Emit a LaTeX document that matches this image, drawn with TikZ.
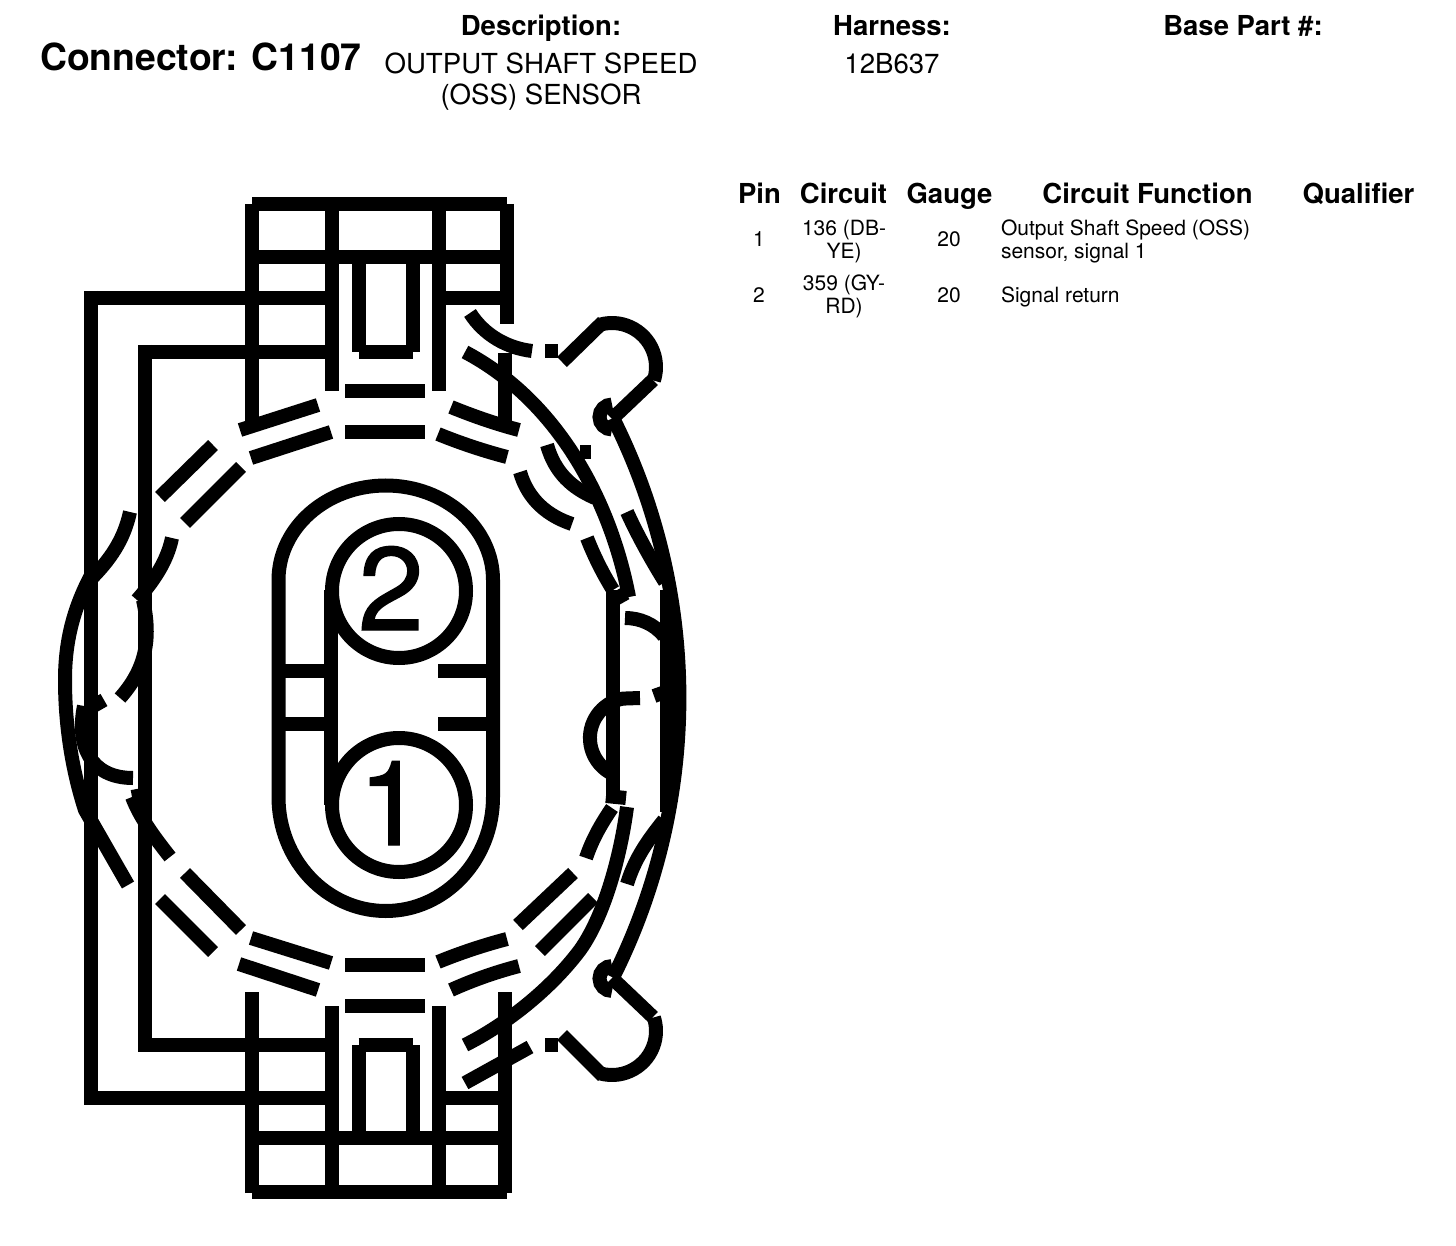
\documentclass[tikz,border=0pt]{standalone}
\usepackage{fontspec}
\setmainfont{TeX Gyre Heros}
\newfontfamily\digf[FakeBold=1.2]{TeX Gyre Heros}
\newcommand{\fs}[1]{\fontsize{#1}{#1}\selectfont}
\begin{document}
\begin{tikzpicture}[x=1pt,y=-1pt,
  ln/.style={line width=14pt,black,line cap=butt,line join=miter},
  txt/.style={anchor=base,inner sep=0pt,outer sep=0pt},
  hd/.style={txt,font=\bfseries\fs{27.5}},
  sub/.style={txt,font=\fs{27.6}},
  cell/.style={txt,font=\fs{21}},
  celll/.style={anchor=base west,inner sep=0pt,outer sep=0pt,font=\fs{21}},
  dig/.style={txt,font=\digf\fs{118}}]
\fill[white] (0,0) rectangle (1456,1246);
\useasboundingbox (0,0) rectangle (1456,1246);
% ---- top block
\draw[ln] (252,204) -- (507,204);
\draw[ln] (252,204) -- (252,423);
\draw[ln] (332,204) -- (332,391);
\draw[ln] (438.5,204) -- (438.5,391);
\draw[ln] (506.5,204) -- (506.5,324);
\draw[ln] (252,257.5) -- (506.5,257.5);
\draw[ln] (91,298) -- (332,298);
\draw[ln] (438.5,298) -- (506.5,298);
\draw[ln] (145,352) -- (332,352);
\draw[ln] (358.5,257) -- (358.5,352);
\draw[ln] (412.5,257) -- (412.5,352);
\draw[ln] (358.5,352) -- (412.5,352);
\draw[ln] (505,353) -- (505,425);
\draw[ln] (345,391) -- (425,391);
\draw[ln] (345,431.5) -- (425,431.5);
% ---- bottom block
\draw[ln] (252,1192) -- (507,1192);
\draw[ln] (252,1193) -- (252,992);
\draw[ln] (332,1192) -- (332,1006);
\draw[ln] (438.5,1192) -- (438.5,1006);
\draw[ln] (505,1193) -- (505,992);
\draw[ln] (252,1138) -- (505,1138);
\draw[ln] (91,1098) -- (332,1098);
\draw[ln] (438.5,1098) -- (505,1098);
\draw[ln] (145,1045) -- (332,1045);
\draw[ln] (358.5,1138) -- (358.5,1045);
\draw[ln] (412.5,1138) -- (412.5,1045);
\draw[ln] (358.5,1045) -- (412.5,1045);
\draw[ln] (345,1006) -- (425,1006);
\draw[ln] (345,964.5) -- (425,964.5);
% ---- long verticals
\draw[ln] (91,291) -- (91,1105);
\draw[ln] (145,345) -- (145,1052);
\draw[ln] (612.5,590) -- (612.5,800);
\draw[ln] (667,590) -- (667,812);
% ---- ring dashes top
\draw[ln] (240,430) -- (318,405);
\draw[ln] (251,458) -- (331,432);
\draw[ln] (451,407) .. controls (473,416) and (496,424) .. (519,430);
\draw[ln] (438,434) .. controls (460,443) and (484,451) .. (507,457);
% ring dashes bottom
\draw[ln] (239,964) -- (318,990);
\draw[ln] (251,938) -- (331,963);
\draw[ln] (451,990) .. controls (473,980) and (496,972) .. (519,966);
\draw[ln] (438,962) .. controls (460,953) and (484,945) .. (507,939);
% ring dashes left
\draw[ln] (160,497) -- (213,445);
\draw[ln] (185,523) -- (241,467);
\draw[ln] (160,899) -- (213,952);
\draw[ln] (185,873) -- (241,930);
% ring dashes lower right
\draw[ln] (518,925) -- (573,873);
\draw[ln] (540,951) -- (593,898);
% ---- upper right arcs
\draw[ln] (470,313) .. controls (484,335) and (507,348) .. (532,351);
\draw[ln] (545,351.5) -- (558,351.5);
\draw[ln] (465,352) .. controls (556,400) and (610,498) .. (629,597);
\draw[ln] (547,445) .. controls (555,473) and (572,488) .. (595,498);
\draw[ln] (580,452) -- (591,452);
\draw[ln] (520,472) .. controls (528,500) and (548,516) .. (572,524);
\draw[ln] (587,538) .. controls (594,556) and (603,574) .. (613,590);
\draw[ln] (627,512) .. controls (636,532) and (650,558) .. (665,582);
\draw[ln] (610,602) -- (626,593);
% hook top
\draw[ln] (562,362) -- (603,322);
\draw[ln] (600.6,324.5) arc[start angle=-105,end angle=18,radius=44];
\draw[ln] (653,380) -- (612,419);
\draw[ln] (612,404.5) arc[start angle=-90,end angle=-270,radius=12.5];
% ---- outer right arc
\draw[ln] (613,418) arc[start angle=-26.7,end angle=26.7,radius=622.7];
% small arcs at right
\draw[ln] (625,618) .. controls (640,618) and (654,624) .. (664,636);
\draw[ln] (640,698) -- (623,698.6) arc[start angle=-100,end angle=-240,radius=40];
\draw[ln] (654,696) -- (668,691);
% ---- lower right arcs
\draw[ln] (465,1045) .. controls (505,1025) and (550,990) .. (580,950) .. controls (603,918) and (620,860) .. (627,807);
\draw[ln] (586,858) .. controls (592,840) and (601,824) .. (612,808);
\draw[ln] (606,796) -- (626,798);
\draw[ln] (627,884) .. controls (635,858) and (648,840) .. (664,820);
\draw[ln] (465,1083) -- (530,1047);
\draw[ln] (545,1045) -- (558,1045);
% hook bottom
\draw[ln] (562,1035) -- (603,1076);
\draw[ln] (600.6,1073.5) arc[start angle=105,end angle=-18,radius=44];
\draw[ln] (653,1017) -- (612,978);
\draw[ln] (612,966) arc[start angle=-90,end angle=-270,radius=12.5];
% ---- left arcs
\draw[ln] (130,512) .. controls (124,540) and (110,560) .. (90,580);
\draw[ln] (95,568) .. controls (74,605) and (65,640) .. (65,680) .. controls (65,725) and (72,770) .. (85,810) -- (128,885);
\draw[ln] (172,538) .. controls (167,562) and (153,582) .. (137,600);
\draw[ln] (143,600) .. controls (152,640) and (145,670) .. (120,698);
\draw[ln] (90,708) -- (104,700);
\draw[ln] (84,706) .. controls (76,745) and (90,778) .. (133,778);
\draw[ln] (132,797) .. controls (140,818) and (155,838) .. (170,857);
\draw[ln] (132,797) -- (148,794);
% ---- centre
\draw[ln] (278.5,580) arc[start angle=180,end angle=360,x radius=107.25,y radius=94.5]
  -- (493,797) arc[start angle=0,end angle=180,x radius=107.25,y radius=114] -- cycle;
\draw[ln] (399,591) circle[radius=67];
\draw[ln] (399,805) circle[radius=67];
\draw[ln] (331,590) -- (331,805);
\draw[ln] (278,671) -- (331,671);
\draw[ln] (278,724) -- (331,724);
\draw[ln] (438,671) -- (493,671);
\draw[ln] (438,724) -- (493,724);
\node[dig] (two) at (391,630) {2};
\node[dig] (one) at (391,845) {1};
% ---- titles
\node[anchor=base west,inner sep=0pt,font=\bfseries\fs{37.3}] (title) at (40,71) {Connector: C1107};
\node[hd] (desc) at (541,36) {Description:};
\node[hd] (harn) at (892,36) {Harness:};
\node[hd] (base) at (1243,36) {Base Part \#:};
\node[sub] (d1) at (541,74) {OUTPUT SHAFT SPEED};
\node[sub] (d2) at (541,105) {(OSS) SENSOR};
\node[sub] (hn) at (892,74) {12B637};
% ---- table
\node[hd] (hpin) at (759.5,204) {Pin};
\node[hd] (hcir) at (843.5,204) {Circuit};
\node[hd] (hgau) at (949.5,204) {Gauge};
\node[hd] (hfun) at (1147.5,204) {Circuit Function};
\node[hd] (hqua) at (1358.5,204) {Qualifier};
\node[cell] (p1) at (759,247) {1};
\node[cell] (c1a) at (844,236) {136 (DB-};
\node[cell] (c1b) at (844,259) {YE)};
\node[cell] (g1) at (949,247) {20};
\node[celll] (f1a) at (1001,236) {Output Shaft Speed (OSS)};
\node[celll] (f1b) at (1001,259) {sensor, signal 1};
\node[cell] (p2) at (759,303) {2};
\node[cell] (c2a) at (844,291) {359 (GY-};
\node[cell] (c2b) at (844,314) {RD)};
\node[cell] (g2) at (949,303) {20};
\node[celll] (f2) at (1001,303) {Signal return};
\end{tikzpicture}
\end{document}
